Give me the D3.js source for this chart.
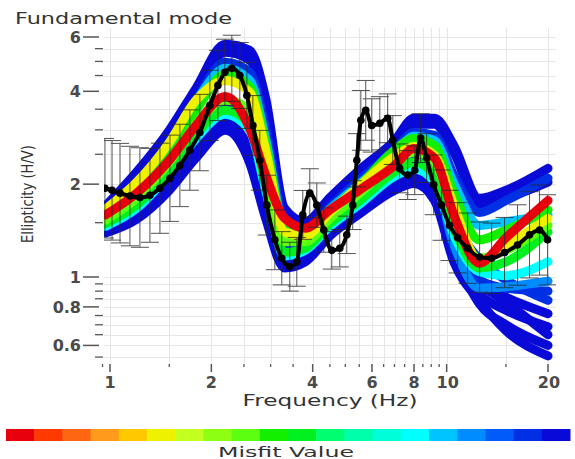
<!DOCTYPE html>
<html>
<head>
<meta charset="utf-8">
<script src="https://cdn.jsdelivr.net/npm/d3@7"></script>
<style>
  body { margin: 0; background: #fff; }
  svg { display: block; font-family: "DejaVu Sans", Verdana, sans-serif; }
</style>
</head>
<body>
<div id="chart"></div>
<script>
// frequencies (Hz) where the model curves were read
var modelFreqs = [0.97, 1.2, 1.5, 1.8, 2.2, 2.6, 2.9, 3.3, 3.8, 4.5, 5.5, 7, 8, 9.2, 10.5, 12.5, 15, 20];

// model ellipticity curves (one row per model)
var modelValues = [
  [1.70, 2.19, 2.99, 4.09, 5.68, 5.43, 3.80, 1.67, 1.51, 1.81, 2.22, 2.77, 3.27, 3.27, 2.67, 1.80, 1.91, 2.25],
  [1.66, 2.11, 2.86, 3.88, 5.35, 5.04, 3.47, 1.61, 1.46, 1.75, 2.12, 2.65, 3.13, 3.13, 2.54, 1.71, 1.80, 2.03],
  [1.39, 1.54, 1.91, 2.43, 2.99, 2.34, 1.55, 1.07, 1.12, 1.36, 1.60, 1.91, 2.01, 1.77, 1.12, 0.84, 0.67, 0.555],
  [1.44, 1.62, 2.01, 2.58, 3.17, 2.58, 1.71, 1.12, 1.17, 1.42, 1.67, 1.98, 2.09, 1.84, 1.27, 0.96, 0.83, 0.65],
  [1.51, 1.74, 2.25, 2.99, 3.63, 3.27, 2.06, 1.22, 1.26, 1.51, 1.78, 2.22, 2.39, 2.19, 1.51, 1.14, 0.98, 0.84],
  [1.62, 2.01, 2.73, 3.74, 4.97, 4.61, 3.03, 1.51, 1.42, 1.69, 2.06, 2.58, 2.94, 2.88, 2.14, 1.62, 1.77, 2.09],
  [1.50, 1.72, 2.22, 2.95, 3.55, 3.20, 2.03, 1.21, 1.25, 1.50, 1.77, 2.20, 2.36, 2.15, 1.35, 0.95, 0.86, 0.76],
  [1.42, 1.58, 1.98, 2.52, 3.10, 2.50, 1.65, 1.10, 1.15, 1.40, 1.64, 1.95, 2.05, 1.80, 1.20, 0.82, 0.70, 0.60],
  [1.43, 1.60, 2.00, 2.55, 3.13, 2.55, 1.68, 1.11, 1.16, 1.41, 1.65, 1.96, 2.07, 1.82, 1.15, 0.88, 0.78, 0.69],
  [1.49, 1.70, 2.18, 2.90, 3.50, 3.10, 1.98, 1.20, 1.24, 1.48, 1.75, 2.17, 2.32, 2.10, 1.25, 0.98, 0.92, 0.90],
  [1.47, 1.69, 2.18, 2.85, 3.42, 3.05, 1.96, 1.19, 1.23, 1.47, 1.74, 2.15, 2.30, 2.08, 1.28, 0.92, 0.93, 0.97],
  [1.46, 1.67, 2.16, 2.81, 3.37, 2.99, 1.91, 1.17, 1.22, 1.46, 1.72, 2.12, 2.25, 2.03, 1.37, 1.04, 1.01, 1.12],
  [1.64, 2.00, 2.70, 3.70, 4.75, 4.34, 2.81, 1.46, 1.39, 1.66, 2.00, 2.50, 2.86, 2.77, 2.01, 1.47, 1.51, 1.59],
  [1.49, 1.71, 2.22, 2.90, 3.47, 3.13, 2.00, 1.20, 1.24, 1.49, 1.76, 2.19, 2.36, 2.14, 1.44, 1.07, 1.12, 1.40],
  [1.58, 1.91, 2.58, 3.47, 4.54, 4.15, 2.71, 1.42, 1.36, 1.62, 1.97, 2.58, 2.81, 2.67, 1.88, 1.32, 1.42, 1.65],
  [1.53, 1.80, 2.36, 3.13, 3.74, 3.47, 2.25, 1.30, 1.30, 1.55, 1.86, 2.36, 2.54, 2.36, 1.62, 1.15, 1.22, 1.47],
  [1.66, 2.03, 2.73, 3.74, 4.34, 3.97, 2.58, 1.40, 1.36, 1.62, 1.97, 2.46, 2.65, 2.48, 1.71, 1.12, 1.26, 1.55],
  [1.59, 1.87, 2.39, 3.10, 3.85, 3.03, 2.14, 1.55, 1.44, 1.65, 1.91, 2.30, 2.61, 2.43, 1.59, 1.11, 1.34, 1.77]
];
var modelMisfits = [0.99, 0.97, 0.99, 0.95, 0.93, 0.91, 0.96, 0.98, 0.97, 0.94, 0.8, 0.72, 0.75, 0.5, 0.47, 0.42, 0.28, 0.02];

// observed H/V curve with error factors
var obsFreqs = [0.966, 1.014, 1.071, 1.146, 1.227, 1.314, 1.407, 1.507, 1.613, 1.727, 1.849, 1.98, 2.092, 2.194,
  2.301, 2.43, 2.55, 2.657, 2.786, 2.923, 3.088, 3.238, 3.42, 3.588, 3.738, 3.922, 4.114, 4.315, 4.558, 4.814,
  5.05, 5.26, 5.41, 5.56, 5.75, 5.99, 6.33, 6.68, 6.92, 7.25, 7.66, 8.04, 8.37, 8.72, 9.15, 9.66, 10.2, 10.78,
  11.54, 12.53, 13.6, 14.86, 16.24, 17.63, 18.88, 19.94];
var obsValues = [1.94, 1.91, 1.87, 1.83, 1.81, 1.84, 1.94, 2.09, 2.30, 2.58, 2.94, 3.60, 4.18, 4.61,
  4.75, 4.50, 3.88, 3.10, 2.39, 1.71, 1.32, 1.15, 1.08, 1.12, 1.59, 1.87, 1.71, 1.42, 1.22, 1.24,
  1.37, 1.71, 2.39, 3.22, 3.47, 3.10, 3.15, 3.27, 2.78, 2.25, 2.14, 2.22, 2.82, 2.43, 1.99, 1.71, 1.47, 1.34,
  1.24, 1.16, 1.15, 1.20, 1.27, 1.37, 1.42, 1.32];
var obsErrFactor = [1.45, 1.45, 1.45, 1.45, 1.45, 1.42, 1.4, 1.38, 1.36, 1.35, 1.33, 1.3, 1.3, 1.28,
  1.28, 1.28, 1.28, 1.25, 1.25, 1.25, 1.25, 1.22, 1.2, 1.2, 1.2, 1.2, 1.18, 1.18, 1.15, 1.15,
  1.15, 1.2, 1.22, 1.25, 1.25, 1.22, 1.22, 1.2, 1.2, 1.2, 1.2, 1.2, 1.2, 1.2, 1.25, 1.3, 1.3, 1.3,
  1.3, 1.3, 1.3, 1.3, 1.35, 1.38, 1.4, 1.4];

// axes
var xTicks = [1, 2, 4, 6, 8, 10, 20];
var xMinorTicks = [0.95, 1.5, 2.5, 3, 3.5, 4.5, 5, 5.5, 6.5, 7, 7.5, 8.5, 9, 9.5, 15];
var yTicks = [0.6, 0.8, 1, 2, 4, 6];
var yMinorTicks = [0.55, 0.65, 0.7, 0.75, 0.85, 0.9, 0.95, 1.5, 2.5, 3, 3.5, 4.5, 5, 5.5];

// colour bar blocks, low misfit -> high misfit
var misfitColours = ["#e8000c", "#ff3a00", "#ff6612", "#ff9a1c", "#ffc800", "#eef200", "#c4ff22", "#8cff12",
  "#5cff10", "#12f000", "#00f020", "#00ff70", "#00ffaa", "#00ffd8", "#00ffff", "#00c4ff", "#008cff",
  "#005cf8", "#0030e4", "#0a0ad8"];

var w = 575, h = 459;
var plot = {left: 104, right: 556, top: 28, bottom: 363};

var svg = d3.select("#chart").append("svg")
  .attr("width", w)
  .attr("height", h);

var x = d3.scaleLog().domain([1, 20]).range([110, 548]);
var y = d3.scaleLog().domain([1, 6]).range([277, 37]);
var colour = d3.scaleQuantize().domain([0, 1]).range(misfitColours);

svg.append("clipPath").attr("id", "plotclip")
  .append("rect")
  .attr("x", plot.left).attr("y", plot.top)
  .attr("width", plot.right - plot.left).attr("height", plot.bottom - plot.top);

// grid
var grid = svg.append("g").attr("stroke", "#e6e6e6").attr("stroke-width", 1);
grid.selectAll(".vg").data(xTicks.concat(xMinorTicks).filter(function(d) { return d >= 1; }))
  .enter().append("line")
  .attr("x1", function(d) { return Math.round(x(d)) + 0.5; })
  .attr("x2", function(d) { return Math.round(x(d)) + 0.5; })
  .attr("y1", plot.top).attr("y2", plot.bottom);
grid.selectAll(".hg").data(yTicks.concat(yMinorTicks))
  .enter().append("line")
  .attr("y1", function(d) { return Math.round(y(d)) + 0.5; })
  .attr("y2", function(d) { return Math.round(y(d)) + 0.5; })
  .attr("x1", plot.left).attr("x2", plot.right);

var body = svg.append("g").attr("clip-path", "url(#plotclip)");

// model curves, worst misfit drawn first
var modelLine = d3.line()
  .x(function(d) { return x(d[0]); })
  .y(function(d) { return y(d[1]); })
  .curve(d3.curveMonotoneX);

var order = d3.range(modelValues.length).sort(function(a, b) { return modelMisfits[b] - modelMisfits[a]; });

body.selectAll(".model")
  .data(order)
  .enter()
  .append("path")
  .attr("class", "model")
  .attr("d", function(k) {
    return modelLine(modelValues[k].map(function(v, i) { return [modelFreqs[i], v]; }));
  })
  .attr("fill", "none")
  .attr("stroke", function(k) { return colour(modelMisfits[k]); })
  .attr("stroke-width", 9)
  .attr("stroke-linecap", "round");

// error bars
var obs = obsFreqs.map(function(f, i) {
  return {f: f, v: obsValues[i], hi: obsValues[i] * obsErrFactor[i], lo: obsValues[i] / obsErrFactor[i]};
});
var err = body.append("g").attr("stroke", "#2a2a2a").attr("stroke-width", 1).attr("opacity", 0.8);
err.selectAll(".ev").data(obs).enter().append("line")
  .attr("x1", function(d) { return x(d.f); }).attr("x2", function(d) { return x(d.f); })
  .attr("y1", function(d) { return y(d.hi); }).attr("y2", function(d) { return y(d.lo); });
err.selectAll(".et").data(obs).enter().append("line")
  .attr("x1", function(d) { return x(d.f) - 9; }).attr("x2", function(d) { return x(d.f) + 9; })
  .attr("y1", function(d) { return y(d.hi); }).attr("y2", function(d) { return y(d.hi); });
err.selectAll(".eb").data(obs).enter().append("line")
  .attr("x1", function(d) { return x(d.f) - 9; }).attr("x2", function(d) { return x(d.f) + 9; })
  .attr("y1", function(d) { return y(d.lo); }).attr("y2", function(d) { return y(d.lo); });

// observed curve
body.append("path")
  .attr("d", d3.line()
    .x(function(d) { return x(d.f); })
    .y(function(d) { return y(d.v); })
    .curve(d3.curveMonotoneX)(obs))
  .attr("fill", "none")
  .attr("stroke", "#000")
  .attr("stroke-width", 4);
body.selectAll(".pt").data(obs).enter().append("circle")
  .attr("cx", function(d) { return x(d.f); })
  .attr("cy", function(d) { return y(d.v); })
  .attr("r", 3.8)
  .attr("fill", "#000");

// x axis ticks
var tickCol = "#555";
svg.selectAll(".xt").data(xTicks).enter().append("line")
  .attr("x1", function(d) { return x(d); }).attr("x2", function(d) { return x(d); })
  .attr("y1", 364).attr("y2", 372)
  .attr("stroke", tickCol).attr("stroke-width", 1.5);
svg.selectAll(".xm").data(xMinorTicks).enter().append("line")
  .attr("x1", function(d) { return x(d); }).attr("x2", function(d) { return x(d); })
  .attr("y1", 364).attr("y2", 367)
  .attr("stroke", tickCol).attr("stroke-width", 1.3);
svg.selectAll(".xl").data(xTicks).enter().append("text")
  .attr("x", function(d) { return x(d) + (d >= 10 ? 1 : 0); })
  .attr("y", 388)
  .attr("text-anchor", "middle")
  .attr("font-size", 16)
  .attr("font-weight", "bold")
  .attr("fill", "#4a4a4a")
  .text(function(d) { return d; });

// y axis ticks
svg.selectAll(".yt").data(yTicks).enter().append("line")
  .attr("y1", function(d) { return y(d); }).attr("y2", function(d) { return y(d); })
  .attr("x1", 83).attr("x2", 99)
  .attr("stroke", tickCol).attr("stroke-width", 1.5);
svg.selectAll(".ym").data(yMinorTicks).enter().append("line")
  .attr("y1", function(d) { return y(d); }).attr("y2", function(d) { return y(d); })
  .attr("x1", 95).attr("x2", 103)
  .attr("stroke", tickCol).attr("stroke-width", 1.3);
svg.selectAll(".yl").data(yTicks).enter().append("text")
  .attr("x", 81)
  .attr("y", function(d) { return y(d) + 6; })
  .attr("text-anchor", "end")
  .attr("font-size", 16)
  .attr("font-weight", "bold")
  .attr("fill", "#4a4a4a")
  .text(function(d) { return d; });

// titles
svg.append("text")
  .attr("x", 15).attr("y", 24)
  .attr("font-size", 15)
  .attr("fill", "#333")
  .attr("textLength", 217).attr("lengthAdjust", "spacingAndGlyphs")
  .text("Fundamental mode");
svg.append("text")
  .attr("x", 330).attr("y", 406)
  .attr("text-anchor", "middle")
  .attr("font-size", 16)
  .attr("fill", "#333")
  .attr("textLength", 175).attr("lengthAdjust", "spacingAndGlyphs")
  .text("Frequency (Hz)");
svg.append("text")
  .attr("transform", "translate(33,194) rotate(-90)")
  .attr("text-anchor", "middle")
  .attr("font-family", "'Liberation Sans Narrow', 'DejaVu Sans Condensed', sans-serif")
  .attr("font-size", 15)
  .attr("fill", "#333")
  .attr("textLength", 98).attr("lengthAdjust", "spacingAndGlyphs")
  .text("Ellipticity (H/V)");

// colour bar
var barX = d3.scaleBand().domain(d3.range(misfitColours.length)).range([6, 570]);
svg.selectAll(".cb").data(misfitColours).enter().append("rect")
  .attr("x", function(d, i) { return barX(i); })
  .attr("y", 429)
  .attr("width", barX.bandwidth() + 0.5)
  .attr("height", 12)
  .attr("fill", function(d) { return d; });
svg.append("text")
  .attr("x", 286).attr("y", 457)
  .attr("text-anchor", "middle")
  .attr("font-size", 14)
  .attr("fill", "#333")
  .attr("textLength", 136).attr("lengthAdjust", "spacingAndGlyphs")
  .text("Misfit Value");
</script>
</body>
</html>
